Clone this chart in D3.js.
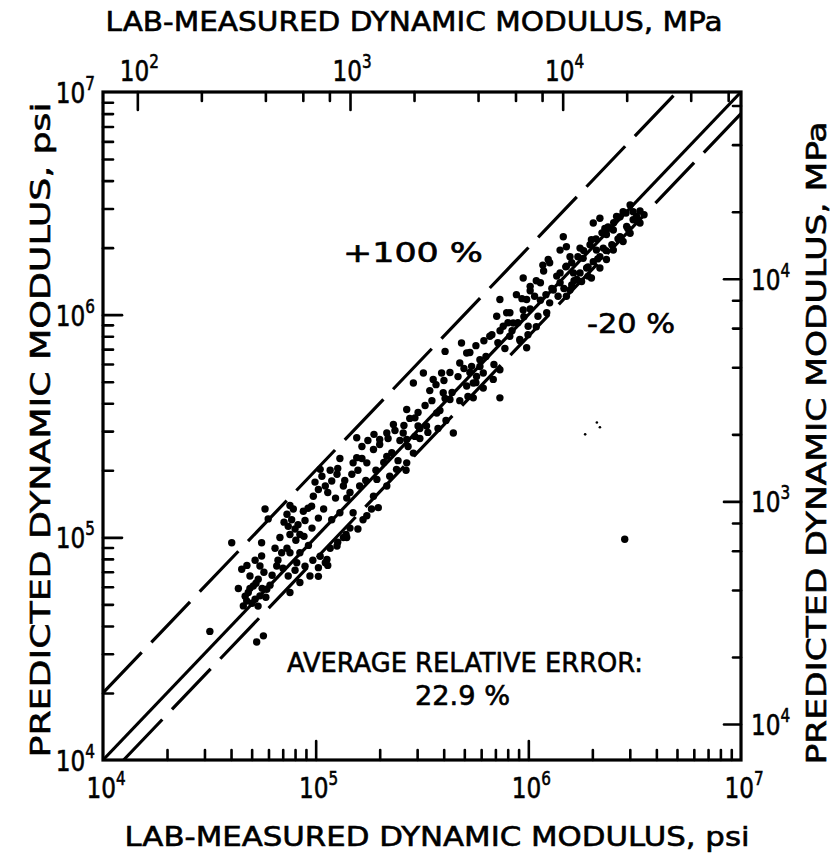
<!DOCTYPE html>
<html>
<head>
<meta charset="utf-8">
<script src="https://cdn.jsdelivr.net/npm/d3@7"></script>
<style>
  html, body { margin: 0; background: #fff; }
  text { font-family: "DejaVu Sans", "Liberation Sans", sans-serif; fill: #000; }
</style>
</head>
<body>
<svg id="chart" width="839" height="857"></svg>
<script>
// Lab-measured vs predicted dynamic modulus (psi), one entry per specimen
const measuredPsi = [
  3.18e4, 4.03e4, 4.49e4, 4.33e4, 5.57e4, 5.78e4, 5.98e4, 5.28e4, 5.68e4, 4.91e4,
  5.09e4, 4.82e4, 5.19e4, 5.47e4, 5.89e4, 5.37e4, 4.74e4, 4.57e4, 5.57e4, 5.47e4,
  6.79e4, 6.92e4, 6.56e4, 7.43e4, 7.57e4, 7.43e4, 8.00e4, 7.71e4, 8.43e4, 7.57e4,
  7.85e4, 8.75e4, 9.57e4, 9.25e4, 8.43e4, 8.15e4, 7.57e4, 8.43e4, 9.40e4, 1.03e5,
  1.13e5, 1.26e5, 1.35e5, 1.11e5, 1.05e5, 1.11e5, 1.03e5, 9.75e4, 1.19e5, 1.26e5,
  1.35e5, 1.40e5, 1.50e5, 1.61e5, 1.56e5, 1.19e5, 1.30e5, 1.50e5, 1.67e5, 1.74e5,
  1.09e5, 1.56e5, 1.87e5, 1.74e5, 2.00e5, 2.16e5, 2.32e5, 2.68e5, 2.16e5, 2.40e5,
  2.68e5, 2.88e5, 1.94e5, 2.16e5, 1.87e5, 1.83e5, 1.58e5, 1.40e5, 1.97e5, 2.58e5,
  3.03e5, 2.68e5, 2.93e5, 2.88e5, 3.21e5, 3.91e5, 4.06e5, 3.57e5, 3.98e5, 4.28e5,
  3.71e5, 3.32e5, 4.44e5, 4.85e5, 5.13e5, 4.76e5, 5.41e5, 5.92e5, 5.71e5, 6.14e5,
  5.13e5, 5.51e5, 7.35e5, 5.51e5, 6.14e5, 6.84e5, 7.35e5, 6.59e5, 7.10e5, 7.62e5,
  8.18e5, 8.49e5, 7.91e5, 7.35e5, 8.79e5, 9.46e5, 1.02e6, 9.82e5, 1.07e6, 9.46e5,
  9.98e5, 9.12e5, 9.82e5, 1.14e6, 1.17e6, 1.24e6, 1.36e6, 1.41e6, 1.31e6, 1.26e6,
  1.22e6, 1.11e6, 1.46e6, 1.51e6, 1.41e6, 1.57e6, 1.51e6, 1.63e6, 1.57e6, 1.51e6,
  1.75e6, 1.81e6, 1.98e6, 2.02e6, 1.88e6, 1.78e6, 2.09e6, 1.91e6, 2.17e6, 2.25e6,
  2.33e6, 2.51e6, 2.70e6, 2.90e6, 3.11e6, 3.01e6, 2.79e6, 2.51e6, 2.33e6, 2.17e6,
  1.98e6, 2.02e6, 2.17e6, 2.29e6, 2.60e6, 2.79e6, 3.01e6, 3.11e6, 3.23e6, 3.35e6,
  1.69e6, 2.84e6,
  4.66e4, 4.91e4, 5.24e4, 5.60e4, 5.02e4, 5.36e4, 5.83e4, 6.10e4, 4.75e4, 5.19e4,
  5.71e4, 6.24e4, 6.65e4, 7.02e4, 7.33e4, 6.44e4,
  7.10e4, 7.33e4, 8.26e4, 8.91e4, 8.07e4, 8.81e4, 9.61e4, 1.03e5, 9.21e4, 7.57e4,
  8.00e4, 8.91e4, 9.70e4, 1.05e5, 1.17e5, 1.27e5, 1.39e5, 1.03e5, 1.14e5, 1.45e5,
  9.93e4, 1.07e5, 1.17e5, 1.27e5, 1.37e5, 1.48e5, 1.14e5, 1.24e5, 1.45e5, 1.58e5,
  1.65e5, 1.30e5,
  1.65e5, 1.76e5, 1.88e5, 2.00e5, 2.19e5, 2.36e5, 2.49e5, 2.72e5, 2.93e5, 3.09e5,
  2.28e5, 2.09e5, 2.44e5, 2.66e5, 1.92e5, 1.72e5, 2.23e5,
  2.60e5, 2.77e5, 3.03e5, 3.27e5, 3.52e5, 3.84e5, 4.10e5, 3.76e5, 3.37e5, 3.09e5,
  3.44e5, 3.68e5, 4.01e5, 4.28e5, 4.67e5, 4.98e5, 5.31e5, 5.67e5, 4.38e5, 4.76e5,
  5.20e5, 4.06e5,
  5.31e5, 5.67e5, 6.18e5, 6.74e5, 7.19e5, 7.76e5, 6.32e5, 6.89e5, 5.92e5, 7.36e5,
  8.02e5,
  8.38e5, 8.93e5, 9.53e5, 1.02e6, 9.14e5, 9.96e5, 1.09e6, 8.19e5,
  1.14e6, 1.21e6, 1.29e6, 1.41e6, 1.50e6, 1.60e6, 1.38e6, 1.47e6, 1.64e6, 1.09e6,
  1.02e6, 1.18e6, 1.26e6, 9.33e5,
  1.71e6, 1.82e6, 1.95e6, 2.08e6, 2.22e6, 2.37e6, 2.52e6, 2.70e6, 2.88e6, 1.91e6,
  2.12e6, 2.32e6, 2.47e6, 2.64e6, 2.94e6, 1.75e6, 1.60e6, 3.21e6, 3.35e6, 3.50e6
];
const predictedPsi = [
  3.78e4, 9.46e4, 7.19e4, 5.89e4, 9.46e4, 1.34e5, 1.21e5, 3.39e4, 3.61e4, 6.70e4,
  6.05e4, 5.65e4, 5.27e4, 5.46e4, 5.85e4, 6.49e4, 5.18e4, 4.92e4, 8.24e4, 7.43e4,
  9.98e4, 8.53e4, 7.43e4, 6.70e4, 8.53e4, 1.12e5, 1.09e5, 1.20e5, 1.03e5, 1.03e5,
  1.34e5, 1.31e5, 1.38e5, 9.20e4, 8.53e4, 7.69e4, 5.65e4, 6.27e4, 6.70e4, 7.31e4,
  7.96e4, 9.14e4, 9.98e4, 7.69e4, 2.02e5, 1.70e5, 1.64e5, 1.53e5, 1.79e5, 1.92e5,
  1.70e5, 1.50e5, 2.16e5, 1.70e5, 2.28e5, 1.20e5, 1.29e5, 1.29e5, 1.20e5, 1.25e5,
  1.34e5, 2.80e5, 2.48e5, 2.16e5, 2.75e5, 2.94e5, 3.21e5, 2.75e5, 2.31e5, 2.02e5,
  2.16e5, 2.39e5, 1.82e5, 1.70e5, 1.53e5, 1.34e5, 1.09e5, 9.98e4, 1.36e5, 2.94e5,
  3.16e5, 3.75e5, 3.44e5, 4.93e5, 5.47e5, 5.47e5, 6.84e5, 5.12e5, 4.46e5, 4.16e5,
  3.62e5, 3.16e5, 2.94e5, 7.46e5, 6.73e5, 6.07e5, 5.86e5, 6.28e5, 5.28e5, 5.47e5,
  4.78e5, 4.93e5, 4.23e5, 4.23e5, 4.68e5, 5.12e5, 5.66e5, 8.00e5, 9.84e5, 8.87e5,
  8.00e5, 9.18e5, 1.02e6, 1.17e6, 1.23e6, 1.46e6, 1.34e6, 1.17e6, 1.21e6, 1.05e6,
  8.87e5, 7.73e5, 7.10e5, 1.39e6, 1.67e6, 1.77e6, 1.49e6, 1.39e6, 1.29e6, 1.13e6,
  1.02e6, 9.84e5, 2.24e6, 2.02e6, 1.95e6, 1.82e6, 1.65e6, 1.54e6, 1.29e6, 1.21e6,
  1.99e6, 1.79e6, 2.17e6, 1.73e6, 1.62e6, 1.41e6, 1.95e6, 1.49e6, 1.82e6, 1.99e6,
  2.29e6, 2.40e6, 2.24e6, 2.49e6, 2.67e6, 2.32e6, 2.13e6, 1.95e6, 1.77e6, 1.62e6,
  1.46e6, 2.58e6, 2.71e6, 2.44e6, 2.76e6, 2.90e6, 3.11e6, 2.90e6, 2.76e6, 2.58e6,
  1.44e6, 9.80e4,
  5.44e4, 5.90e4, 6.22e4, 5.90e4, 5.06e4, 4.91e4, 5.38e4, 6.10e4, 7.48e4, 7.89e4,
  6.97e4, 6.76e4, 7.89e4, 7.26e4, 8.93e4, 8.93e4,
  1.17e5, 1.27e5, 1.14e5, 1.19e5, 9.70e4, 1.01e5, 1.10e5, 1.22e5, 1.35e5, 1.39e5,
  7.11e4, 7.41e4, 7.89e4, 8.22e4, 8.93e4, 9.51e4, 1.03e5, 6.68e4, 7.48e4, 1.10e5,
  1.77e5, 1.88e5, 2.00e5, 2.04e5, 1.80e5, 1.92e5, 1.59e5, 1.50e5, 1.59e5, 2.00e5,
  2.26e5, 2.26e5,
  2.56e5, 2.72e5, 2.90e5, 2.61e5, 2.78e5, 3.02e5, 2.72e5, 2.56e5, 2.84e5, 3.08e5,
  2.40e5, 2.17e5, 2.21e5, 2.00e5, 2.00e5, 1.80e5, 1.88e5,
  3.18e5, 3.42e5, 3.64e5, 3.91e5, 4.11e5, 3.71e5, 3.35e5, 3.08e5, 2.96e5, 2.78e5,
  4.56e5, 4.85e5, 5.06e5, 5.50e5, 5.27e5, 5.73e5, 5.50e5, 4.95e5, 4.47e5, 4.11e5,
  4.29e5, 4.20e5,
  6.76e5, 7.26e5, 7.64e5, 8.13e5, 7.48e5, 7.05e5, 6.49e5, 5.97e5, 5.85e5, 8.47e5,
  9.20e5,
  8.47e5, 9.20e5, 9.79e5, 1.06e6, 7.64e5, 8.13e5, 8.83e5, 1.02e6,
  1.16e6, 1.23e6, 1.31e6, 1.54e6, 1.64e6, 1.71e6, 1.21e6, 1.31e6, 1.42e6, 1.42e6,
  1.28e6, 1.57e6, 1.71e6, 1.18e6,
  1.82e6, 1.94e6, 2.06e6, 2.19e6, 2.33e6, 2.48e6, 2.59e6, 2.75e6, 2.86e6, 1.64e6,
  1.78e6, 1.94e6, 2.06e6, 2.19e6, 2.43e6, 1.54e6, 1.36e6, 2.69e6, 2.92e6, 2.81e6
];
// faint specks in the field
const speckMeasuredPsi  = [2.10e6, 2.17e6, 1.85e6];
const speckPredictedPsi = [3.28e5, 3.12e5, 2.90e5];

// reference lines: predicted = ratio * measured
const guideRatios = [2, 1, 0.8];
const guideDashed = [true, false, true];

// axis ticks
const psiMajor = [1e5, 1e6];
const psiMinor = [2, 3, 4, 5, 6, 7, 8, 9].flatMap(m => [1e4, 1e5, 1e6].map(d => m * d));
const mpaMajor = [100, 1000, 10000];
const mpaMinor = [200, 400, 600, 800, 2000, 4000, 6000, 8000, 20000, 40000, 60000];
const psiLabelValues = [1e4, 1e5, 1e6, 1e7];
const psiLabelExp = ["4", "5", "6", "7"];
const mpaTopExp = ["2", "3", "4"];
const mpaRightExp = ["4", "3", "4"];

const PSI_PER_MPA = 145.0377;
const L = 103, R = 741, T = 92, B = 760;

const svg = d3.select("#chart");
const x = d3.scaleLog().domain([1e4, 1e7]).range([L, R]);
const y = d3.scaleLog().domain([1e4, 1e7]).range([B, T]);
const xM = d3.scaleLog().domain([1e4 / PSI_PER_MPA, 1e7 / PSI_PER_MPA]).range([L, R]);
const yM = d3.scaleLog().domain([1e4 / PSI_PER_MPA, 1e7 / PSI_PER_MPA]).range([B, T]);

function ticks(axis, scale, values, size, tx, ty) {
  const g = svg.append("g").attr("transform", `translate(${tx},${ty})`)
    .call(axis(scale).tickValues(values).tickSize(size).tickFormat(""));
  g.select(".domain").remove();
  g.selectAll("line").attr("stroke", "#000").attr("stroke-width", 2.6).attr("stroke-linecap", "round");
}
ticks(d3.axisBottom, x, psiMinor, -10, 0, B);
ticks(d3.axisBottom, x, psiMajor, -19, 0, B);
ticks(d3.axisLeft, y, psiMinor, -10, L, 0);
ticks(d3.axisLeft, y, psiMajor, -19, L, 0);
ticks(d3.axisTop, xM, mpaMinor, -9, 0, T);
ticks(d3.axisTop, xM, mpaMajor, -18, 0, T);
ticks(d3.axisRight, yM, mpaMinor, -8, R, 0);
ticks(d3.axisRight, yM, mpaMajor, -17, R, 0);

// frame
svg.append("rect").attr("x", L).attr("y", T).attr("width", R - L).attr("height", B - T)
  .attr("fill", "none").attr("stroke", "#000").attr("stroke-width", 3.2);

// guide lines (equality, +100 %, -20 %)
guideRatios.forEach((r, i) => {
  const m0 = Math.max(1e4, 1e4 / r), m1 = Math.min(1e7, 1e7 / r);
  svg.append("line")
    .attr("x1", x(m0)).attr("y1", y(m0 * r))
    .attr("x2", x(m1)).attr("y2", y(m1 * r))
    .attr("stroke", "#000").attr("stroke-width", 3.2)
    .attr("stroke-dasharray", guideDashed[i] ? "56,14" : null);
});

// data points
svg.append("g").selectAll("circle").data(measuredPsi).join("circle")
  .attr("cx", d => x(d)).attr("cy", (d, i) => y(predictedPsi[i]))
  .attr("r", 3.7).attr("fill", "#000");
svg.append("g").selectAll("circle").data(speckMeasuredPsi).join("circle")
  .attr("cx", d => x(d)).attr("cy", (d, i) => y(speckPredictedPsi[i]))
  .attr("r", 1.3).attr("fill", "#000");

// power-of-ten label: "10" with raised exponent
function powLabel(px, py, exp, anchor) {
  const t = svg.append("text").attr("transform", `translate(${px},${py}) scale(0.8,1)`)
    .attr("text-anchor", anchor).attr("font-size", 29)
    .attr("stroke", "#000").attr("stroke-width", 0.6);
  t.append("tspan").text("10");
  t.append("tspan").attr("dy", -13).attr("font-size", 19).text(exp);
}
psiLabelValues.forEach((v, i) => powLabel(x(v) + 3, B + 38, psiLabelExp[i], "middle"));
psiLabelValues.forEach((v, i) => powLabel(L - 8, y(v) + 11, psiLabelExp[i], "end"));
mpaMajor.forEach((v, i) => powLabel(xM(v) + 2, 81, mpaTopExp[i], "middle"));
mpaMajor.forEach((v, i) => powLabel(R + 10, yM(v) + 11, mpaRightExp[i], "start"));

// axis titles
function title(str, tx, ty, rot, len) {
  svg.append("text").attr("transform", `translate(${tx},${ty}) rotate(${rot})`)
    .attr("text-anchor", "middle").attr("font-size", 27)
    .attr("textLength", len).attr("lengthAdjust", "spacingAndGlyphs")
    .attr("stroke", "#000").attr("stroke-width", 0.6)
    .text(str);
}
title("LAB-MEASURED DYNAMIC MODULUS, MPa", 414, 31, 0, 617);
title("LAB-MEASURED DYNAMIC MODULUS, psi", 437, 846, 0, 625);
title("PREDICTED DYNAMIC MODULUS, psi", 50, 430, -90, 655);
title("PREDICTED DYNAMIC MODULUS, MPa", 826, 443, -90, 643);

// annotations
function note(str, tx, ty, len) {
  svg.append("text").attr("x", tx).attr("y", ty).attr("font-size", 27)
    .attr("textLength", len).attr("lengthAdjust", "spacingAndGlyphs")
    .attr("stroke", "#000").attr("stroke-width", 0.6)
    .text(str);
}
note("+100 %", 343, 262, 140);
note("-20 %", 587, 333, 88);
note("AVERAGE RELATIVE ERROR:", 287, 672, 356);
note("22.9 %", 415, 705, 95);
</script>
</body>
</html>
